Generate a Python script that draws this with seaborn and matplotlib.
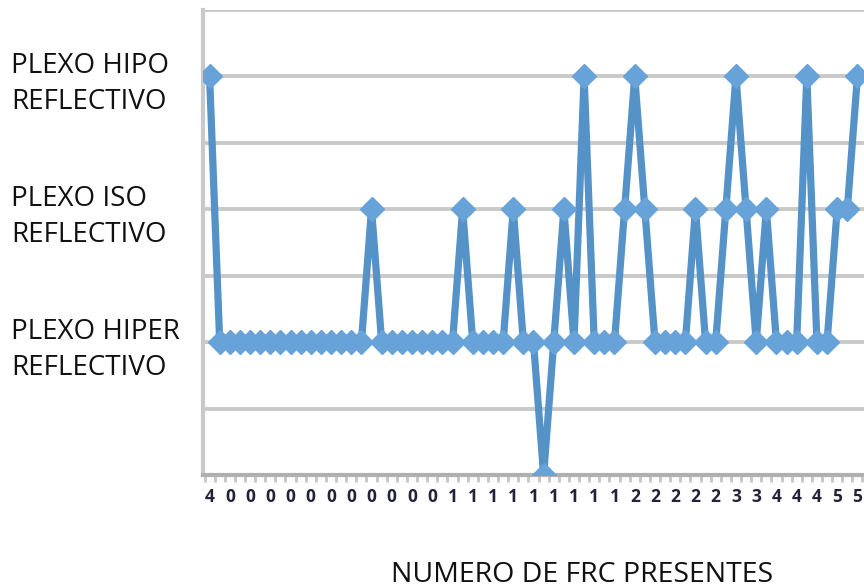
import matplotlib
matplotlib.use("Agg")
import matplotlib.pyplot as plt
import seaborn as sns
import numpy as np
import pandas as pd

# ---- data ----
# 0 = (below hiper), 1 = PLEXO HIPER REFLECTIVO, 2 = PLEXO ISO REFLECTIVO, 3 = PLEXO HIPO REFLECTIVO
plexo_values = [3, 1, 1, 1, 1, 1, 1, 1, 1, 1, 1, 1, 1, 1, 1, 1,
                2, 1, 1, 1, 1, 1, 1, 1, 1, 2, 1, 1, 1, 1,
                2, 1, 1, 0, 1, 2, 1, 3, 1, 1, 1, 2, 3, 2,
                1, 1, 1, 1, 2, 1, 1, 2, 3, 2, 1, 2, 1, 1, 1,
                3, 1, 1, 2, 2, 3]
# visible category labels (every second category is labelled)
frc_labels = ["4"] + ["0"] * 11 + ["1"] * 9 + ["2"] * 5 + ["3"] * 2 + ["4"] * 3 + ["5"] * 2
y_levels = [1, 2, 3]
y_level_names = ["PLEXO HIPER\nREFLECTIVO", "PLEXO ISO\nREFLECTIVO", "PLEXO HIPO\nREFLECTIVO"]
x_title = "NUMERO DE FRC PRESENTES"

df = pd.DataFrame({"idx": np.arange(len(plexo_values)), "plexo": plexo_values})

sns.set_style("white")
plt.rcParams["font.family"] = ["Open Sans", "DejaVu Sans"]

fig = plt.figure(figsize=(8.64, 5.88), dpi=100)
ax = fig.add_axes([203 / 864, 1 - 475 / 588, 661 / 864, 465 / 588])

grid_c = "#c9c9c9"
line_c = "#5592c8"
mark_c = "#67a2d9"

sns.lineplot(data=df, x="idx", y="plexo", ax=ax, color=line_c, linewidth=5.2,
             marker="D", markersize=12, markerfacecolor=mark_c,
             markeredgecolor=mark_c, markeredgewidth=1.0, zorder=5)

ax.set_ylim(0, 3.5)
ax.set_xlim(-0.65, len(plexo_values) - 0.35)

yt = np.arange(0, 3.51, 0.5)
ax.set_yticks(yt)
ylabs = []
for v in yt:
    if v in y_levels:
        ylabs.append(y_level_names[y_levels.index(v)])
    else:
        ylabs.append("")
ax.set_yticklabels(ylabs)
for lab in ax.get_yticklabels():
    lab.set_ha("left")
    lab.set_linespacing(1.4)
ax.tick_params(axis="y", length=5, width=2.5, color=grid_c, pad=133,
               labelsize=20, labelcolor="#111111")
ax.yaxis.grid(True, color=grid_c, linewidth=2.8)
ax.xaxis.grid(False)

major = np.arange(0, len(plexo_values), 2)
ax.set_xticks(major)
ax.set_xticklabels(frc_labels)
ax.set_xticks(np.arange(-0.5, len(plexo_values), 1), minor=True)
ax.tick_params(axis="x", which="major", length=0, pad=9, labelsize=12.5,
               labelcolor="#22223a")
for lab in ax.get_xticklabels():
    lab.set_fontweight("bold")
ax.tick_params(axis="x", which="minor", length=5, width=2.2, color=grid_c, bottom=True)

ax.set_xlabel(x_title, fontsize=20.5, color="#111111")
ax.xaxis.set_label_coords((582 - 203) / 661, -(575 - 475) / 465)
ax.xaxis.label.set_va("center")
ax.set_ylabel("")

for s in ["top", "right"]:
    ax.spines[s].set_visible(False)
ax.spines["left"].set_color(grid_c)
ax.spines["left"].set_linewidth(3)
ax.spines["bottom"].set_color("#b0b0b0")
ax.spines["bottom"].set_linewidth(3)

fig.savefig("out.png", dpi=100)
